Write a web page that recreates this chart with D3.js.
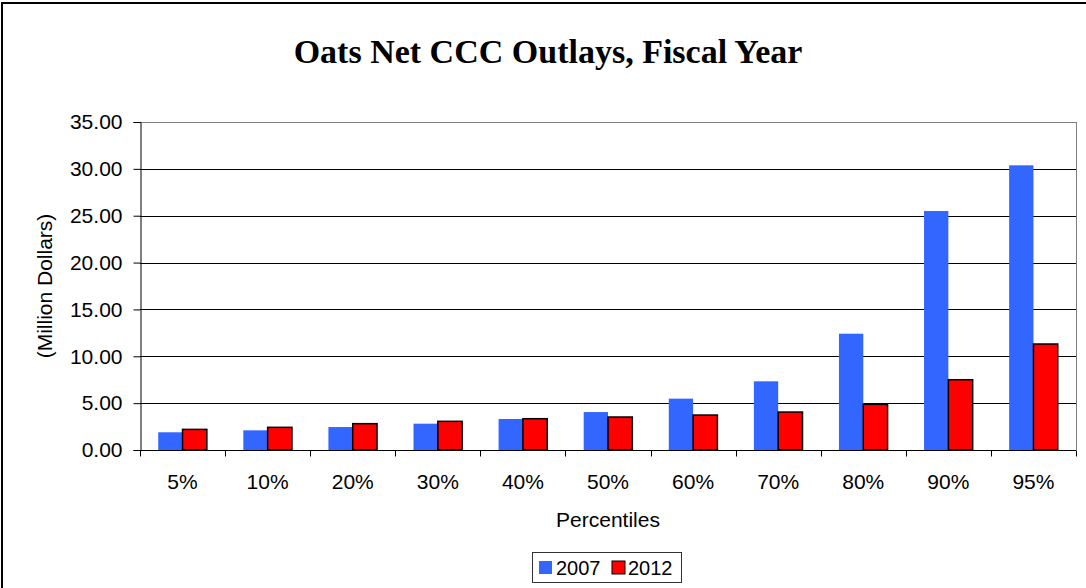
<!DOCTYPE html>
<html><head><meta charset="utf-8">
<script src="https://cdn.jsdelivr.net/npm/d3@7"></script>
<style>body{margin:0;background:#fff}svg{display:block}</style>
</head><body>
<svg id="c" width="1086" height="588"></svg>
<script>
const categories = ["5%","10%","20%","30%","40%","50%","60%","70%","80%","90%","95%"];
const series2007 = [1.89,2.10,2.45,2.81,3.31,4.05,5.48,7.33,12.41,25.50,30.38];
const series2012 = [2.20,2.42,2.81,3.06,3.34,3.52,3.73,4.05,4.87,7.50,11.31];
const seriesNames = ["2007","2012"];
const yTicks = [0,5,10,15,20,25,30,35];

const svg = d3.select("#c");
const m = {l:140, t:122, r:1076, b:450};
const x = d3.scaleBand().domain(categories).range([m.l, m.r]).paddingInner(0).paddingOuter(0);
const y = d3.scaleLinear().domain([0,35]).range([m.b, m.t]);
const sub = d3.scaleBand().domain(seriesNames).range([0, x.bandwidth()]).paddingOuter(0.75).paddingInner(0);
const colors = {"2007":"#3366FF","2012":"#FF0000"};
const sans = "'Liberation Sans',Arial,sans-serif";

// outer frame
svg.append("rect").attr("x",2).attr("y",3).attr("width",1200).attr("height",1000)
  .attr("fill","none").attr("stroke","#000").attr("stroke-width",2);

// title
svg.append("text").attr("x",548).attr("y",63).attr("text-anchor","middle")
  .attr("font-family","'Liberation Serif','Times New Roman',serif").attr("font-weight","bold")
  .attr("font-size",34).text("Oats Net CCC Outlays, Fiscal Year");

// gridlines
svg.append("g").selectAll("line").data(yTicks.filter(d=>d>0)).join("line")
  .attr("x1",m.l).attr("x2",m.r).attr("y1",d=>Math.round(y(d))+0.5).attr("y2",d=>Math.round(y(d))+0.5)
  .attr("stroke",d=>d===35?"#808080":"#000").attr("stroke-width",1);
svg.append("line").attr("x1",m.r+0.5).attr("x2",m.r+0.5).attr("y1",m.t).attr("y2",m.b)
  .attr("stroke","#808080");

// bars
const data = [];
categories.forEach((c,i)=>{
  data.push({c, s:"2007", v:series2007[i]});
  data.push({c, s:"2012", v:series2012[i]});
});
svg.append("g").selectAll("rect").data(data).join("rect")
  .attr("x",d=>x(d.c)+sub(d.s))
  .attr("y",d=>y(d.v))
  .attr("width",sub.bandwidth())
  .attr("height",d=>y(0)-y(d.v))
  .attr("fill",d=>colors[d.s])
  .attr("stroke",d=>d.s==="2012"?"#000":"none")
  .attr("stroke-width",1.5);

// y axis
const yAxis = d3.axisLeft(y).tickValues(yTicks).tickFormat(d3.format(".2f")).tickSize(7).tickPadding(11);
const ya = svg.append("g").attr("transform",`translate(${m.l+0.5},0)`).call(yAxis);
ya.select(".domain").attr("stroke","#000");
ya.selectAll(".tick line").attr("stroke","#000");
ya.selectAll("text").attr("font-family",sans).attr("font-size",21).attr("fill","#000");

// x axis
const xAxis = d3.axisBottom(x).tickSize(0).tickPadding(24);
const xa = svg.append("g").attr("transform",`translate(0,${m.b+0.5})`).call(xAxis);
xa.select(".domain").attr("stroke","#000").attr("d",`M${m.l},0H${m.r}`);
xa.selectAll("text").attr("font-family",sans).attr("font-size",21).attr("fill","#000");
const bounds = categories.map(c=>x(c)).concat([m.r]);
xa.append("g").selectAll("line").data(bounds).join("line")
  .attr("x1",d=>Math.round(d)+0.5).attr("x2",d=>Math.round(d)+0.5).attr("y1",0).attr("y2",6).attr("stroke","#000");

// axis titles
svg.append("text").attr("transform","translate(52,286) rotate(-90)").attr("text-anchor","middle")
  .attr("font-family",sans).attr("font-size",21).text("(Million Dollars)");
svg.append("text").attr("x",608).attr("y",527).attr("text-anchor","middle")
  .attr("font-family",sans).attr("font-size",21).text("Percentiles");

// legend
const lg = svg.append("g");
lg.append("rect").attr("x",532.5).attr("y",552.5).attr("width",149).attr("height",30)
  .attr("fill","#fff").attr("stroke","#333");
const items = [{s:"2007",sx:539,tx:556},{s:"2012",sx:612,tx:628}];
items.forEach(it=>{
  lg.append("rect").attr("x",it.sx).attr("y",561).attr("width",13).attr("height",13)
    .attr("fill",colors[it.s]).attr("stroke",it.s==="2012"?"#000":"none").attr("stroke-width",1);
  lg.append("text").attr("x",it.tx).attr("y",575).attr("font-family",sans)
    .attr("font-size",20).text(it.s);
});
</script>
</body></html>
